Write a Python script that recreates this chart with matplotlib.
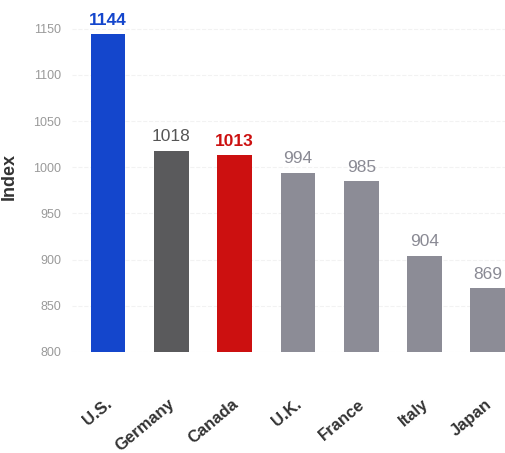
import matplotlib.pyplot as plt
import matplotlib.transforms as mtransforms

countries = ["U.S.", "Germany", "Canada", "U.K.", "France", "Italy", "Japan"]
values = [1144, 1018, 1013, 994, 985, 904, 869]
bar_colors = ["#1446cc", "#5a5a5c", "#cc1010", "#8c8c96", "#8c8c96", "#8c8c96", "#8c8c96"]
label_colors = ["#1446cc", "#555555", "#cc1010", "#8a8a94", "#8a8a94", "#8a8a94", "#8a8a94"]
label_bold = [True, False, True, False, False, False, False]
yticks = [800, 850, 900, 950, 1000, 1050, 1100, 1150]

plt.rcParams['font.family'] = ['Liberation Sans', 'DejaVu Sans']

fig = plt.figure(figsize=(5.05, 4.53), dpi=100)
ax = fig.add_axes([72 / 505, 101 / 453, 433 / 505, 351 / 453])

x = list(range(len(countries)))
ax.bar(x, [v - 800 for v in values], bottom=800, width=0.55, color=bar_colors, zorder=2)

for i, v in enumerate(values):
    ax.text(i, v + 7, str(v), ha='center', va='bottom', fontsize=12.5,
            color=label_colors[i], fontweight='bold' if label_bold[i] else 'normal',
            clip_on=False)

ax.set_xlim(-0.57, 6.27)
ax.set_ylim(800, 1180)
ax.set_yticks(yticks)
ax.set_yticklabels([str(t) for t in yticks], color='#9a9a9a', fontsize=9)
ax.tick_params(axis='y', length=0, pad=8)
ax.yaxis.grid(True, color='#f2f2f2', linestyle='--', linewidth=0.8, zorder=0)

ax.set_xticks(x)
ax.set_xticklabels(countries, rotation=40, ha='right', va='top', rotation_mode='anchor',
                   fontsize=12, fontweight='bold', color='#333333')
ax.tick_params(axis='x', length=0, pad=32)
offset = mtransforms.ScaledTranslation(-3 / 100, 0, fig.dpi_scale_trans)
for lbl in ax.get_xticklabels():
    lbl.set_transform(lbl.get_transform() + offset)

ax.set_ylabel("Index", fontsize=13, fontweight='bold', color='#333333', labelpad=12)
ax.yaxis.set_label_coords(-0.125, 0.5)

for s in ax.spines.values():
    s.set_visible(False)

fig.savefig("out.png", dpi=100)
